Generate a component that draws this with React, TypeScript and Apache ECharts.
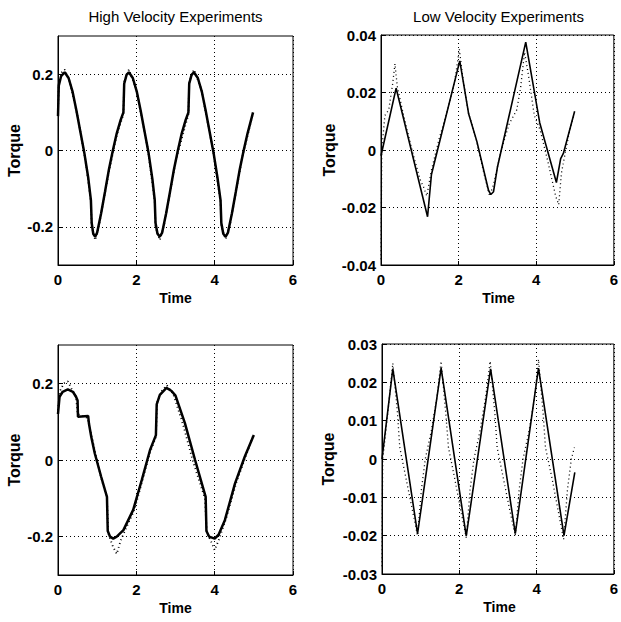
import React, { useEffect, useRef } from 'react';
import * as echarts from 'echarts';

const FONT = '"Liberation Sans", Arial, Helvetica, sans-serif';

const titles = ['High Velocity Experiments', 'Low Velocity Experiments'];
const xLabel = 'Time';
const yLabel = 'Torque';
const xTicks = [0, 2, 4, 6];
const highVelYTicks = [-0.2, 0, 0.2];

// Top-left: high velocity, model (solid) and experiment (dotted)
const hvTopModel: [number, number][] = [
  [0, 0.09], [0.02, 0.17], [0.08, 0.195], [0.17, 0.205], [0.27, 0.19], [0.37, 0.155], [0.47, 0.105],
  [0.57, 0.05], [0.67, -0.005], [0.77, -0.07], [0.84, -0.13], [0.86, -0.19], [0.9, -0.218], [0.95, -0.226],
  [1.0, -0.215], [1.1, -0.165], [1.2, -0.108], [1.3, -0.05], [1.4, 0.0], [1.5, 0.045], [1.6, 0.08],
  [1.67, 0.1], [1.69, 0.175], [1.75, 0.198], [1.81, 0.205], [1.91, 0.19], [2.01, 0.155], [2.11, 0.105],
  [2.21, 0.05], [2.31, -0.005], [2.41, -0.075], [2.47, -0.13], [2.49, -0.19], [2.54, -0.218], [2.6, -0.226],
  [2.66, -0.215], [2.76, -0.165], [2.86, -0.108], [2.96, -0.05], [3.06, 0.0], [3.16, 0.045], [3.26, 0.08],
  [3.33, 0.1], [3.35, 0.175], [3.41, 0.198], [3.47, 0.205], [3.57, 0.19], [3.67, 0.155], [3.77, 0.105],
  [3.87, 0.05], [3.97, -0.005], [4.07, -0.07], [4.15, -0.13], [4.17, -0.19], [4.22, -0.218], [4.28, -0.226],
  [4.34, -0.215], [4.44, -0.165], [4.54, -0.108], [4.64, -0.05], [4.74, 0.0], [4.84, 0.045], [4.98, 0.1],
];
const hvTopExp: [number, number][] = [
  [0, 0.1], [0.02, 0.175], [0.1, 0.205], [0.17, 0.212], [0.3, 0.18], [0.5, 0.09], [0.7, -0.025],
  [0.84, -0.135], [0.86, -0.2], [0.95, -0.235], [1.05, -0.195], [1.3, -0.055], [1.5, 0.04], [1.67, 0.095],
  [1.69, 0.18], [1.81, 0.212], [2.0, 0.16], [2.3, 0.0], [2.47, -0.135], [2.49, -0.2], [2.6, -0.235],
  [2.72, -0.19], [3.0, -0.03], [3.33, 0.095], [3.35, 0.18], [3.47, 0.212], [3.66, 0.16], [3.96, 0.0],
  [4.15, -0.135], [4.17, -0.2], [4.28, -0.232], [4.4, -0.19], [4.7, -0.02], [4.98, 0.098],
];

// Top-right: low velocity
const lvTopModel: [number, number][] = [
  [0, -0.002], [0.39, 0.0215], [1.2, -0.0232], [1.3, -0.0085], [2.03, 0.031], [2.26, 0.0125],
  [2.47, 0.003], [2.77, -0.014], [2.83, -0.0155], [2.9, -0.0145], [3.0, -0.006], [3.73, 0.0375],
  [4.09, 0.0095], [4.52, -0.0113], [4.63, -0.003], [4.7, -0.0012], [4.99, 0.0135],
];
const lvTopExp: [number, number][] = [
  [0, -0.038], [0.01, -0.02], [0.02, 0.0], [0.1, 0.012], [0.2, 0.014], [0.3, 0.023], [0.36, 0.03],
  [0.42, 0.022], [0.6, 0.011], [0.8, 0.0], [1.0, -0.01], [1.1, -0.013], [1.18, -0.016], [1.3, -0.007],
  [1.5, 0.004], [1.7, 0.013], [1.9, 0.024], [2.02, 0.035], [2.1, 0.026], [2.25, 0.013], [2.45, 0.004],
  [2.65, -0.008], [2.8, -0.016], [2.9, -0.012], [3.1, 0.0], [3.3, 0.009], [3.5, 0.014], [3.6, 0.022],
  [3.7, 0.034], [3.8, 0.026], [3.95, 0.012], [4.1, 0.007], [4.3, -0.004], [4.5, -0.016], [4.58, -0.019],
  [4.65, -0.008], [4.72, -0.003], [4.85, 0.006], [4.97, 0.012],
];

// Bottom-left: high velocity
const hvBottomModel: [number, number][] = [
  [0, 0.12], [0.04, 0.165], [0.12, 0.178], [0.25, 0.184], [0.38, 0.178], [0.46, 0.165], [0.5, 0.155],
  [0.51, 0.113], [0.77, 0.115], [0.79, 0.095], [0.85, 0.06], [0.94, 0.017], [1.1, -0.043], [1.25, -0.096],
  [1.27, -0.185], [1.33, -0.2], [1.41, -0.205], [1.5, -0.2], [1.67, -0.183], [1.92, -0.13], [2.14, -0.052],
  [2.35, 0.026], [2.5, 0.065], [2.52, 0.145], [2.6, 0.17], [2.77, 0.188], [2.9, 0.18], [3.0, 0.168],
  [3.24, 0.096], [3.5, 0.0], [3.77, -0.096], [3.79, -0.185], [3.86, -0.2], [4.0, -0.205], [4.1, -0.195],
  [4.26, -0.157], [4.52, -0.061], [4.77, 0.009], [5.0, 0.065],
];
const hvBottomExp: [number, number][] = [
  [0, 0.13], [0.05, 0.18], [0.15, 0.2], [0.25, 0.205], [0.35, 0.185], [0.46, 0.165], [0.5, 0.12],
  [0.75, 0.11], [0.8, 0.09], [0.95, 0.02], [1.1, -0.045], [1.25, -0.1], [1.28, -0.19], [1.4, -0.225],
  [1.5, -0.245], [1.6, -0.21], [1.75, -0.175], [1.95, -0.13], [2.15, -0.055], [2.35, 0.02], [2.5, 0.06],
  [2.53, 0.15], [2.65, 0.18], [2.78, 0.195], [2.95, 0.17], [3.2, 0.09], [3.45, -0.005], [3.75, -0.1],
  [3.8, -0.19], [3.92, -0.215], [4.0, -0.235], [4.1, -0.21], [4.3, -0.15], [4.55, -0.06], [4.8, 0.012],
  [5.0, 0.068],
];

// Bottom-right: low velocity
const lvBottomModel: [number, number][] = [
  [0, 0.0], [0.28, 0.0235], [0.92, -0.0195], [1.53, 0.0237], [2.18, -0.0201], [2.81, 0.0235],
  [3.45, -0.0195], [4.05, 0.0237], [4.71, -0.02], [4.99, -0.0035],
];
const lvBottomExp: [number, number][] = [
  [0, -0.028], [0.01, -0.01], [0.02, 0.0], [0.15, 0.012], [0.28, 0.025], [0.4, 0.012], [0.46, 0.003],
  [0.62, -0.005], [0.78, -0.013], [0.92, -0.02], [1.02, -0.008], [1.12, 0.0], [1.27, 0.007], [1.42, 0.016],
  [1.53, 0.0255], [1.65, 0.012], [1.72, 0.003], [1.88, -0.005], [2.03, -0.013], [2.18, -0.0205],
  [2.28, -0.008], [2.38, 0.0], [2.53, 0.007], [2.68, 0.016], [2.8, 0.0255], [2.92, 0.012], [2.98, 0.003],
  [3.14, -0.005], [3.3, -0.013], [3.45, -0.02], [3.55, -0.008], [3.65, 0.0], [3.8, 0.007], [3.95, 0.016],
  [4.05, 0.026], [4.17, 0.012], [4.23, 0.003], [4.4, -0.005], [4.55, -0.013], [4.7, -0.021], [4.8, -0.008],
  [4.9, 0.0], [4.98, 0.003],
];

type Panel = {
  rect: [number, number, number, number];
  yMin: number;
  yMax: number;
  interval?: number;
  yTicks?: number[];
  model: [number, number][];
  exp: [number, number][];
  thick: boolean;
  nameGap: number;
  title?: string;
};

const panels: Panel[] = [
  { rect: [58, 36, 235, 229], yMin: -0.3, yMax: 0.3, yTicks: highVelYTicks, model: hvTopModel, exp: hvTopExp, thick: true, nameGap: 44, title: titles[0] },
  { rect: [381, 35, 235, 230], yMin: -0.04, yMax: 0.04, interval: 0.02, model: lvTopModel, exp: lvTopExp, thick: false, nameGap: 52, title: titles[1] },
  { rect: [58, 345, 235, 230], yMin: -0.3, yMax: 0.3, yTicks: highVelYTicks, model: hvBottomModel, exp: hvBottomExp, thick: true, nameGap: 44 },
  { rect: [382, 344, 235, 230], yMin: -0.03, yMax: 0.03, interval: 0.01, model: lvBottomModel, exp: lvBottomExp, thick: false, nameGap: 54 },
];

const splitLine = { show: true, lineStyle: { color: '#000', width: 1, type: [1, 3] as number[] } };
const tickFont = { color: '#000', fontFamily: FONT, fontSize: 15, fontWeight: 'bold' as const };

function buildOption() {
  const grid: any[] = [];
  const xAxis: any[] = [];
  const yAxis: any[] = [];
  const series: any[] = [];
  const graphic: any[] = [];
  panels.forEach((p, i) => {
    const [l, t, w, h] = p.rect;
    grid.push({ left: l, top: t, width: w, height: h, show: true, borderColor: '#000', borderWidth: 1, backgroundColor: 'transparent' });
    xAxis.push({
      gridIndex: i, type: 'value', min: xTicks[0], max: xTicks[xTicks.length - 1], interval: 2,
      axisLine: { show: true, onZero: false, lineStyle: { color: '#000', width: 1 } },
      axisTick: { show: true, inside: true, length: 4, lineStyle: { color: '#000' } },
      axisLabel: { ...tickFont, margin: 7 },
      splitLine,
    });
    const y: any = {
      gridIndex: i, type: 'value', min: p.yMin, max: p.yMax,
      axisLine: { show: true, onZero: false, lineStyle: { color: '#000', width: 1 } },
      axisTick: { show: true, inside: true, length: 4, lineStyle: { color: '#000' } },
      axisLabel: { ...tickFont, margin: 5 },
      splitLine,
    };
    if (p.yTicks) {
      y.axisTick.customValues = p.yTicks;
      y.axisLabel.customValues = p.yTicks;
    } else {
      y.interval = p.interval;
    }
    yAxis.push(y);
    series.push({
      type: 'line', xAxisIndex: i, yAxisIndex: i, data: p.exp, showSymbol: false, silent: true,
      lineStyle: { color: '#000', width: p.thick ? 1.8 : 1.3, type: [1, 3] },
    });
    series.push({
      type: 'line', xAxisIndex: i, yAxisIndex: i, data: p.model, showSymbol: false, silent: true,
      lineStyle: { color: '#000', width: p.thick ? 2.5 : 1.6 },
    });
    const cx = l + w / 2;
    if (p.title) {
      graphic.push({ type: 'text', x: cx, y: 16, style: { text: p.title, fontFamily: FONT, fontSize: 15, fill: '#000', align: 'center', verticalAlign: 'middle' } });
    }
    graphic.push({ type: 'text', x: cx, y: t + h + 33, style: { text: xLabel, fontFamily: FONT, fontSize: 14, fontWeight: 'bold', fill: '#000', align: 'center', verticalAlign: 'middle' } });
    graphic.push({ type: 'text', x: l - p.nameGap, y: t + h / 2, rotation: Math.PI / 2, style: { text: yLabel, fontFamily: FONT, fontSize: 16, fontWeight: 'bold', fill: '#000', align: 'center', verticalAlign: 'middle' } });
  });
  return { animation: false, backgroundColor: '#fff', grid, xAxis, yAxis, series, graphic };
}

export default function App() {
  const ref = useRef<HTMLDivElement>(null);
  useEffect(() => {
    if (!ref.current) return;
    const chart = echarts.init(ref.current, undefined, { renderer: 'svg' });
    chart.setOption(buildOption() as any);
    return () => chart.dispose();
  }, []);
  return <div ref={ref} style={{ position: 'absolute', left: 0, top: 0, width: 621, height: 622, background: '#fff' }} />;
}
